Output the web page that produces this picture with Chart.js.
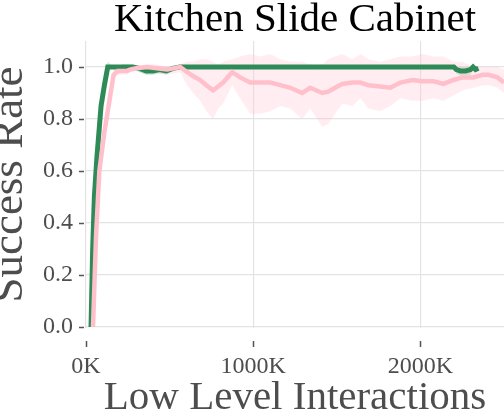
<!DOCTYPE html>
<html><head><meta charset="utf-8">
<script src="https://cdn.jsdelivr.net/npm/chart.js@4/dist/chart.umd.min.js"></script>
<style>html,body{margin:0;padding:0;background:#fff}</style>
</head><body>
<canvas id="c" width="504" height="418"></canvas>
<script>
const chartTitle = 'Kitchen Slide Cabinet';
const xTitle = 'Low Level Interactions';
const yTitle = 'Success Rate';
const xTicks = [0, 1000, 2000];
const yTicks = [0, 0.2, 0.4, 0.6, 0.8, 1.0];

const greenX  = [30,40,50,65,90,110,130,160,220,280,320,360,400,440,480,520,560,700,1000,1500,2000,2200,2215,2240,2270,2300,2315,2330,2347];
const greenY  = [0,0.3,0.5,0.65,0.85,0.93,1.0,1.0,1.0,1.0,0.995,0.985,0.985,0.99,0.985,0.995,1.0,1.0,1.0,1.0,1.0,1.0,0.99,0.985,0.985,0.99,1.0,0.99,0.995];
const greenLo = [0,0.22,0.42,0.6,0.8,0.9,0.99,1.0,0.99,0.99,0.98,0.97,0.97,0.975,0.97,0.985,1.0,1.0,1.0,1.0,1.0,1.0,0.975,0.965,0.965,0.97,0.99,0.98,0.99];
const greenHi = [0,0.38,0.58,0.7,0.9,0.96,1.02,1.0,1.01,1.01,1.0,0.995,0.995,1.0,0.995,1.0,1.0,1.0,1.0,1.0,1.0,1.0,1.0,1.0,1.0,1.0,1.01,1.0,1.0];

const pinkX  = [42,60,80,110,140,165,190,245,263,300,365,425,485,563,605,640,683,720,760,790,820,874,922,982,1042,1102,1162,1222,1293,1341,1413,1449,1490,1533,1593,1641,1689,1760,1820,1880,1952,2012,2078,2138,2198,2251,2317,2371,2407,2461,2500];
const pinkY  = [0,0.35,0.6,0.75,0.87,0.97,0.985,0.985,0.99,0.995,1.0,0.995,0.99,1.0,0.98,0.965,0.95,0.93,0.91,0.925,0.94,0.98,0.96,0.94,0.94,0.94,0.93,0.92,0.90,0.92,0.90,0.905,0.92,0.935,0.94,0.94,0.93,0.925,0.92,0.94,0.95,0.945,0.945,0.935,0.95,0.96,0.96,0.97,0.97,0.96,0.94];
const pinkLo = [0,0.3,0.55,0.7,0.83,0.95,0.97,0.97,0.98,0.985,0.99,0.98,0.97,0.98,0.93,0.9,0.87,0.83,0.80,0.84,0.86,0.93,0.88,0.82,0.82,0.83,0.85,0.84,0.80,0.84,0.77,0.78,0.82,0.86,0.85,0.88,0.84,0.83,0.85,0.88,0.87,0.87,0.88,0.87,0.89,0.91,0.92,0.93,0.93,0.92,0.90];
const pinkHi = [0,0.4,0.65,0.8,0.91,0.99,1.0,1.0,1.0,1.005,1.01,1.01,1.0,1.01,1.02,1.02,1.03,1.03,1.02,1.01,1.02,1.03,1.04,1.05,1.04,1.05,1.03,1.02,1.02,1.01,1.01,1.03,1.04,1.05,1.03,1.05,1.03,1.02,1.03,1.04,1.04,1.05,1.04,1.04,1.02,1.02,1.0,1.0,1.0,1.0,0.99];

const GREEN = '#2e8b57', PINK = '#ffc0cb';
const pts = (xs, ys) => xs.map((x, i) => ({x, y: ys[i]}));
const SERIF = "'Liberation Serif', 'Times New Roman', serif";

const tickMarks = {
  id: 'tickMarks',
  afterDraw(chart) {
    const {ctx, chartArea, scales} = chart;
    ctx.save();
    ctx.strokeStyle = '#555';
    ctx.lineWidth = 1.5;
    ctx.beginPath();
    xTicks.forEach(v => {
      const px = Math.round(scales.x.getPixelForValue(v)) + 0.5;
      ctx.moveTo(px, chartArea.bottom + 13); ctx.lineTo(px, chartArea.bottom + 19);
    });
    yTicks.forEach(v => {
      const py = Math.round(scales.y.getPixelForValue(v)) + 0.5;
      ctx.moveTo(chartArea.left - 7, py); ctx.lineTo(chartArea.left - 2, py);
    });
    ctx.stroke();
    ctx.restore();
  }
};

new Chart(document.getElementById('c'), {
  type: 'line',
  data: {
    datasets: [
      {data: pts(pinkX, pinkY), borderColor: PINK, borderWidth: 4.5, pointRadius: 0, fill: false, tension: 0},
      {data: pts(greenX, greenY), borderColor: GREEN, borderWidth: 5, pointRadius: 0, fill: false, tension: 0},
      {data: pts(pinkX, pinkLo), borderWidth: 0, borderColor: 'rgba(0,0,0,0)', pointRadius: 0, fill: false},
      {data: pts(pinkX, pinkHi), borderWidth: 0, borderColor: 'rgba(0,0,0,0)', pointRadius: 0, fill: '-1', backgroundColor: 'rgba(255,192,203,0.28)'},
      {data: pts(greenX, greenLo), borderWidth: 0, borderColor: 'rgba(0,0,0,0)', pointRadius: 0, fill: false},
      {data: pts(greenX, greenHi), borderWidth: 0, borderColor: 'rgba(0,0,0,0)', pointRadius: 0, fill: '-1', backgroundColor: 'rgba(46,139,87,0.22)'}
    ]
  },
  options: {
    responsive: false,
    animation: false,
    devicePixelRatio: 1,
    layout: {padding: 0},
    plugins: {
      legend: {display: false},
      tooltip: {enabled: false},
      title: {
        display: true, text: chartTitle, fullSize: false, color: '#000',
        font: {family: SERIF, size: 41, weight: 'normal', lineHeight: 1},
        padding: {top: 0, bottom: 0}
      }
    },
    scales: {
      x: {
        type: 'linear', min: 0, max: 2500,
        afterBuildTicks: s => { s.ticks = xTicks.map(v => ({value: v})); },
        afterFit: s => { s.height = 90; },
        ticks: {callback: v => v + 'K', color: '#4d4d4d', font: {family: SERIF, size: 24}, padding: 24, maxRotation: 0, autoSkip: false},
        grid: {color: '#e3e3e3', lineWidth: 1.2, drawTicks: false},
        border: {display: false},
        title: {display: true, text: xTitle, color: '#4d4d4d', font: {family: SERIF, size: 41, lineHeight: 0.95}, padding: {top: 0, bottom: 0}}
      },
      y: {
        min: -0.004, max: 1.1,
        afterBuildTicks: s => { s.ticks = yTicks.map(v => ({value: v})); },
        afterFit: s => { s.width = 86; },
        ticks: {callback: v => v.toFixed(1), color: '#4d4d4d', font: {family: SERIF, size: 24}, padding: 13},
        grid: {color: '#e3e3e3', lineWidth: 1.2, drawTicks: false},
        border: {display: false},
        title: {display: true, text: yTitle, color: '#4d4d4d', font: {family: SERIF, size: 45, lineHeight: 0.46}, padding: 0}
      }
    }
  },
  plugins: [tickMarks]
});
</script>
</body></html>
